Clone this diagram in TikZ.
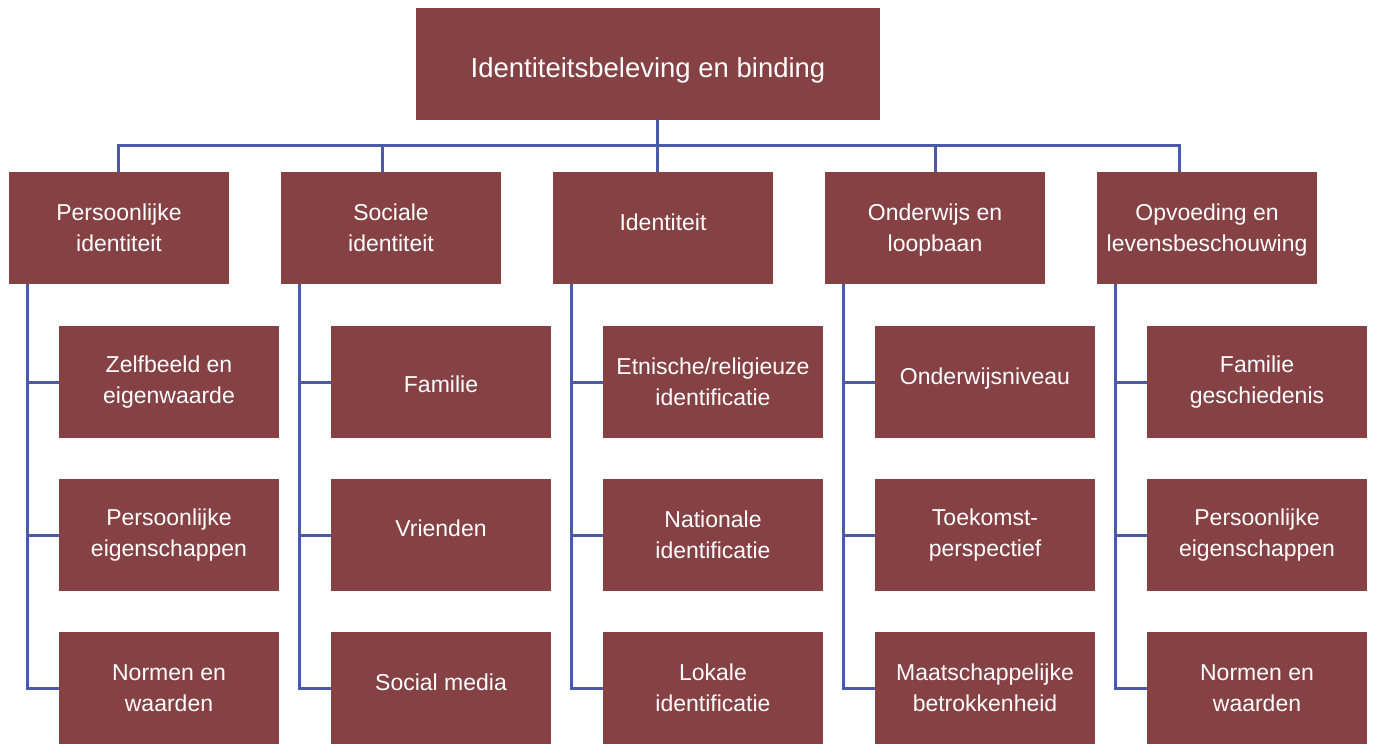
\documentclass[tikz,border=0pt]{standalone}
\usepackage{fontspec}
\setmainfont{Liberation Sans}
\definecolor{boxfill}{HTML}{864145}
\definecolor{linecol}{HTML}{4A5CA8}
\newcommand\myup[2]{\raisebox{0pt}[\height][\dimexpr\depth+#1\relax]{#2}}
\newcommand\mydown[2]{\raisebox{0pt}[\dimexpr\height+#1\relax][\depth]{#2}}
\begin{document}
\begin{tikzpicture}[x=1pt,y=-1pt,
  box/.style={rectangle, fill=boxfill, text=white, align=center, inner sep=0pt,
    minimum width=220pt, minimum height=112pt, font=\fontsize{23}{30.5}\selectfont},
  topbox/.style={box, minimum width=464pt, font=\fontsize{27.5}{33}\selectfont},
  conn/.style={draw=linecol, line width=3pt}]
\useasboundingbox (0,0) rectangle (1375,744);
\coordinate (b1) at (118.5,145);
\coordinate (b2) at (382.5,145);
\coordinate (b3) at (657,145);
\coordinate (b4) at (935,145);
\coordinate (b5) at (1179,145);
\coordinate (v1) at (27,0);
\coordinate (v2) at (299,0);
\coordinate (v3) at (571,0);
\coordinate (v4) at (843,0);
\coordinate (v5) at (1115,0);
% top
\node[topbox] (top) at (648,64) {\mydown{12pt}{Identiteitsbeleving en binding}};
% level 2
\node[box] (l1) at (119,228) {Persoonlijke\\identiteit};
\node[box] (l2) at (391,228) {Sociale\\identiteit};
\node[box] (l3) at (663,228) {\myup{12pt}{Identiteit}};
\node[box] (l4) at (935,228) {\mydown{4pt}{Onderwijs en}\\loopbaan};
\node[box] (l5) at (1207,228) {\mydown{4pt}{Opvoeding en}\\levensbeschouwing};
% children
\node[box] (c11) at (169,382) {Zelfbeeld en\\eigenwaarde};
\node[box] (c12) at (169,535) {Persoonlijke\\eigenschappen};
\node[box] (c13) at (169,688) {Normen en\\waarden};
\node[box] (c21) at (441,382) {\mydown{4pt}{Familie}};
\node[box] (c22) at (441,535) {\myup{14pt}{Vrienden}};
\node[box] (c23) at (441,688) {\myup{12pt}{Social media}};
\node[box] (c31) at (713,382) {Etnische/religieuze\\identificatie};
\node[box] (c32) at (713,535) {Nationale\\identificatie};
\node[box] (c33) at (713,688) {Lokale\\identificatie};
\node[box] (c41) at (985,382) {\myup{6pt}{Onderwijsniveau}};
\node[box] (c42) at (985,535) {Toekomst-\\perspectief};
\node[box] (c43) at (985,688) {Maatschappelijke\\betrokkenheid};
\node[box] (c51) at (1257,382) {Familie\\geschiedenis};
\node[box] (c52) at (1257,535) {Persoonlijke\\eigenschappen};
\node[box] (c53) at (1257,688) {Normen en\\waarden};
% top tree
\draw[conn] (top.south -| b3) -- (l3.north -| b3);
\draw[conn] (l1.north -| b1) -- (b1) -- (b5) -- (l5.north -| b5);
\draw[conn] (l2.north -| b2) -- (b2);
\draw[conn] (l4.north -| b4) -- (b4);
% groups
\foreach \g in {1,...,5}{
  \draw[conn] (l\g.south -| v\g) |- (c\g3.west);
  \draw[conn] (v\g |- c\g1.west) -- (c\g1.west);
  \draw[conn] (v\g |- c\g2.west) -- (c\g2.west);
}
\end{tikzpicture}
\end{document}
